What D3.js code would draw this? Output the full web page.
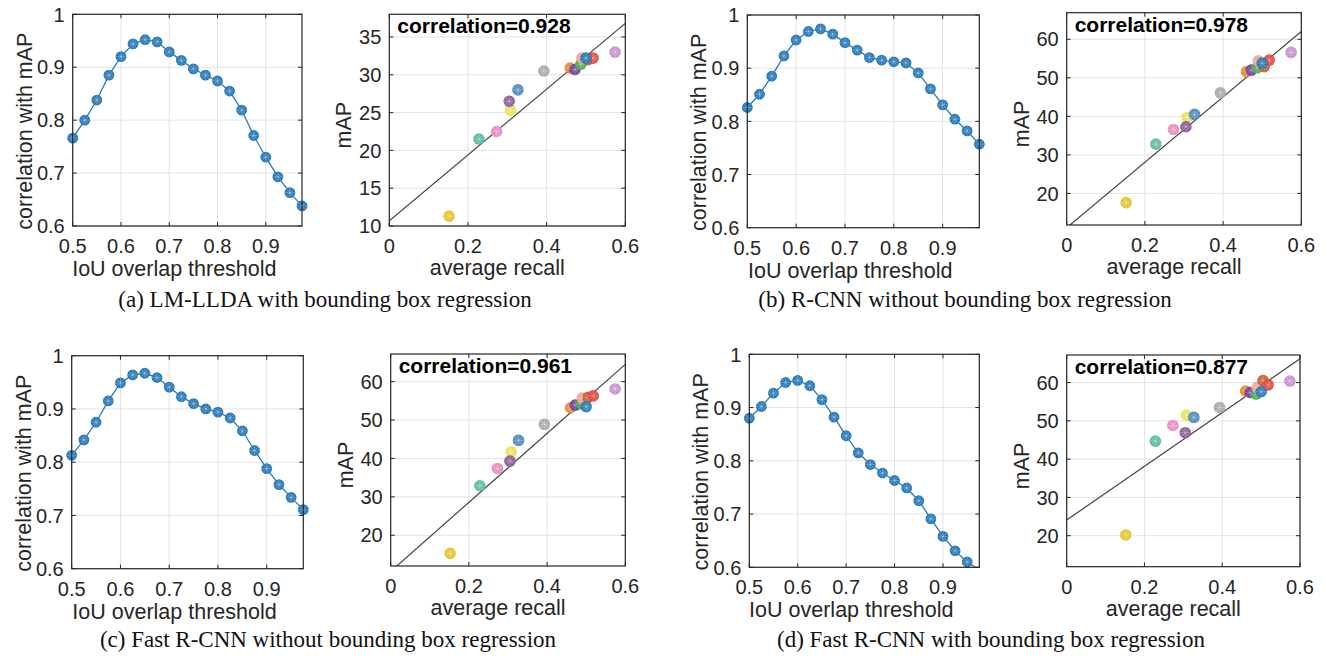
<!DOCTYPE html>
<html>
<head>
<meta charset="utf-8">
<script src="https://cdn.jsdelivr.net/npm/d3@7"></script>
<style>
  html, body { margin: 0; padding: 0; background: #fff; }
  svg { display: block; }
</style>
</head>
<body>
<svg id="chart" width="1326" height="663"></svg>
<script>
// ---------------- DATA ----------------
const iouThresholds = [0.5, 0.525, 0.55, 0.575, 0.6, 0.625, 0.65, 0.675, 0.7, 0.725,
                       0.75, 0.775, 0.8, 0.825, 0.85, 0.875, 0.9, 0.925, 0.95, 0.975];

const corrLMLLDA   = [0.766, 0.800, 0.838, 0.885, 0.920, 0.944, 0.952, 0.948, 0.929, 0.913,
                      0.897, 0.885, 0.874, 0.855, 0.819, 0.771, 0.730, 0.693, 0.663, 0.638];
const corrRCNN     = [0.826, 0.851, 0.885, 0.923, 0.953, 0.969, 0.974, 0.964, 0.948, 0.934,
                      0.920, 0.915, 0.912, 0.910, 0.891, 0.861, 0.831, 0.804, 0.782, 0.757];
const corrFastNoBB = [0.813, 0.842, 0.875, 0.915, 0.949, 0.964, 0.967, 0.959, 0.941, 0.923,
                      0.910, 0.900, 0.894, 0.883, 0.859, 0.822, 0.788, 0.758, 0.734, 0.711];
const corrFastBB   = [0.880, 0.902, 0.927, 0.947, 0.951, 0.941, 0.915, 0.882, 0.847, 0.815,
                      0.793, 0.777, 0.763, 0.749, 0.725, 0.691, 0.658, 0.631, 0.610, 0.595];

// proposal methods (draw order) and their colours
const methodColors = ["#e6c22c", "#5bb8a0", "#e98bc1", "#e4e45a", "#8b5896", "#4f88b9",
                      "#a8a8a8", "#e8872e", "#6b3fa0", "#4cad4a", "#f4a19b", "#c2612d",
                      "#e5463a", "#2379b5", "#c58fd0"];
const averageRecall = [0.152, 0.228, 0.273, 0.308, 0.305, 0.327, 0.393, 0.460, 0.472, 0.487,
                       0.490, 0.505, 0.518, 0.500, 0.574];

const mapLMLLDA   = [11.3, 21.5, 22.5, 25.3, 26.5, 28.0, 30.5, 30.9, 30.7, 31.4, 32.2, 32.0, 32.2, 32.2, 33.0];
const mapRCNN     = [17.6, 32.8, 36.6, 39.7, 37.3, 40.5, 46.1, 51.6, 52.0, 52.6, 54.4, 52.9, 54.6, 53.8, 56.6];
const mapFastNoBB = [15.3, 32.9, 37.4, 41.7, 39.3, 44.7, 48.9, 53.2, 53.9, 54.2, 55.7, 55.9, 56.3, 53.5, 58.1];
const mapFastBB   = [20.2, 44.7, 48.8, 51.5, 46.9, 50.9, 53.5, 57.8, 57.4, 57.0, 58.7, 60.5, 59.4, 57.6, 60.4];

// fitted lines: [value at recall 0, value at recall 0.6]
const fitLMLLDA   = [10.7, 36.8];
const fitRCNN     = [11.1, 62.0];
const fitFastNoBB = [10.6, 64.5];
const fitFastBB   = [24.1, 66.2];

const correlations = ["0.928", "0.978", "0.961", "0.877"];
const captions = ["(a) LM-LLDA with bounding box regression",
                  "(b) R-CNN without bounding box regression",
                  "(c) Fast R-CNN without bounding box regression",
                  "(d) Fast R-CNN with bounding box regression"];

const lineXTicks = [0.5, 0.6, 0.7, 0.8, 0.9];
const lineYTicks = [0.6, 0.7, 0.8, 0.9, 1];
const scatterXTicks = [0, 0.2, 0.4, 0.6];
const scatterYTicksA = [10, 15, 20, 25, 30, 35];
const scatterYTicksB = [20, 30, 40, 50, 60];

// ---------------- LAYOUT ----------------
const svg = d3.select("#chart");
const SANS = "'Liberation Sans', Arial, Helvetica, sans-serif";
const SERIF = "'Liberation Serif', 'DejaVu Serif', serif";
const AXIS = "#262626", GRID = "#e3e3e3", LINEBLUE = "#2a7ab8";

const linePanels = [
  {r: {x0: 72.7, x1: 302, y0: 14.3, y1: 226}, v: corrLMLLDA},
  {r: {x0: 747.3, x1: 979.3, y0: 15, y1: 227.7}, v: corrRCNN},
  {r: {x0: 71.7, x1: 303.3, y0: 355.7, y1: 568.7}, v: corrFastNoBB},
  {r: {x0: 749.3, x1: 979.3, y0: 354.3, y1: 567.3}, v: corrFastBB}
];
const scatterPanels = [
  {r: {x0: 389.3, x1: 625.3, y0: 14.3, y1: 226}, v: mapLMLLDA, fit: fitLMLLDA, dom: [10, 38], ticks: scatterYTicksA},
  {r: {x0: 1066.7, x1: 1301.3, y0: 12.7, y1: 225}, v: mapRCNN, fit: fitRCNN, dom: [11.8, 66.9], ticks: scatterYTicksB},
  {r: {x0: 390.7, x1: 625.3, y0: 354, y1: 566}, v: mapFastNoBB, fit: fitFastNoBB, dom: [12.0, 67.2], ticks: scatterYTicksB},
  {r: {x0: 1066.7, x1: 1300, y0: 355, y1: 566.7}, v: mapFastBB, fit: fitFastBB, dom: [11.9, 67.2], ticks: scatterYTicksB}
];
const captionPos = [{x: 325, y: 307}, {x: 965, y: 307}, {x: 328, y: 647}, {x: 991, y: 647}];

let clipId = 0;
function frame(g, r, x, y, xt, yt) {
  g.append("g").selectAll("line").data(xt).join("line")
    .attr("x1", d => x(d)).attr("x2", d => x(d)).attr("y1", r.y0).attr("y2", r.y1)
    .attr("stroke", GRID).attr("stroke-width", 1);
  g.append("g").selectAll("line").data(yt).join("line")
    .attr("x1", r.x0).attr("x2", r.x1).attr("y1", d => y(d)).attr("y2", d => y(d))
    .attr("stroke", GRID).attr("stroke-width", 1);
}
function axesOver(g, r, x, y, xt, yt, fmtX, fmtY) {
  const tl = 4;
  const tg = g.append("g").attr("stroke", AXIS).attr("stroke-width", 1);
  xt.forEach(d => {
    tg.append("line").attr("x1", x(d)).attr("x2", x(d)).attr("y1", r.y1).attr("y2", r.y1 - tl);
    tg.append("line").attr("x1", x(d)).attr("x2", x(d)).attr("y1", r.y0).attr("y2", r.y0 + tl);
  });
  yt.forEach(d => {
    tg.append("line").attr("x1", r.x0).attr("x2", r.x0 + tl).attr("y1", y(d)).attr("y2", y(d));
    tg.append("line").attr("x1", r.x1).attr("x2", r.x1 - tl).attr("y1", y(d)).attr("y2", y(d));
  });
  g.append("rect").attr("x", r.x0).attr("y", r.y0).attr("width", r.x1 - r.x0).attr("height", r.y1 - r.y0)
    .attr("fill", "none").attr("stroke", AXIS).attr("stroke-width", 1.2);
  g.append("g").selectAll("text").data(xt).join("text")
    .attr("x", d => x(d)).attr("y", r.y1 + 27).attr("text-anchor", "middle")
    .attr("font-family", SANS).attr("font-size", 20).attr("fill", AXIS).text(fmtX);
  g.append("g").selectAll("text").data(yt).join("text")
    .attr("x", r.x0 - 8).attr("y", d => y(d)).attr("dy", "0.36em").attr("text-anchor", "end")
    .attr("font-family", SANS).attr("font-size", 20).attr("fill", AXIS).text(fmtY);
}
function clipFor(r) {
  const id = "clip" + (clipId++);
  svg.append("defs").append("clipPath").attr("id", id).append("rect")
    .attr("x", r.x0).attr("y", r.y0).attr("width", r.x1 - r.x0).attr("height", r.y1 - r.y0);
  return "url(#" + id + ")";
}
function star(g, cx, cy, rad) {
  const p = d3.path();
  for (let k = 0; k < 4; k++) {
    const a = k * Math.PI / 4;
    p.moveTo(cx - rad * Math.cos(a), cy - rad * Math.sin(a));
    p.lineTo(cx + rad * Math.cos(a), cy + rad * Math.sin(a));
  }
  g.append("path").attr("d", p.toString()).attr("stroke", "rgba(255,255,255,0.35)").attr("stroke-width", 0.8);
}

// ---------------- LINE PANELS ----------------
linePanels.forEach(P => {
  const r = P.r;
  const g = svg.append("g");
  const x = d3.scaleLinear().domain([0.5, 0.975]).range([r.x0, r.x1]);
  const y = d3.scaleLinear().domain([0.6, 1]).range([r.y1, r.y0]);
  frame(g, r, x, y, lineXTicks, lineYTicks);
  const pts = iouThresholds.map((t, i) => [t, P.v[i]]);
  const line = d3.line().x(d => x(d[0])).y(d => y(d[1]));
  g.append("path").datum(pts).attr("d", line).attr("fill", "none")
    .attr("stroke", LINEBLUE).attr("stroke-width", 1.3).attr("clip-path", clipFor(r));
  const mg = g.append("g");
  pts.filter(d => d[1] >= 0.6).forEach(d => {
    mg.append("circle").attr("cx", x(d[0])).attr("cy", y(d[1])).attr("r", 5.4).attr("fill", LINEBLUE);
    star(mg, x(d[0]), y(d[1]), 4.6);
  });
  axesOver(g, r, x, y, lineXTicks, lineYTicks, d => d3.format(".1f")(d), d => d === 1 ? "1" : d3.format(".1f")(d));
  const cx = (r.x0 + r.x1) / 2, cy = (r.y0 + r.y1) / 2;
  g.append("text").attr("x", cx - 13).attr("y", r.y1 + 50).attr("text-anchor", "middle")
    .attr("font-family", SANS).attr("font-size", 21.5).attr("fill", AXIS).text("IoU overlap threshold");
  g.append("text").attr("transform", `translate(${r.x0 - 41},${cy + 11}) rotate(-90)`)
    .attr("text-anchor", "middle").attr("font-family", SANS).attr("font-size", 21.5).attr("fill", AXIS)
    .text("correlation with mAP");
});

// ---------------- SCATTER PANELS ----------------
scatterPanels.forEach((P, pi) => {
  const r = P.r;
  const g = svg.append("g");
  const x = d3.scaleLinear().domain([0, 0.6]).range([r.x0, r.x1]);
  const y = d3.scaleLinear().domain(P.dom).range([r.y1, r.y0]);
  frame(g, r, x, y, scatterXTicks, P.ticks);
  g.append("line").attr("x1", x(0)).attr("y1", y(P.fit[0])).attr("x2", x(0.6)).attr("y2", y(P.fit[1]))
    .attr("stroke", "#444").attr("stroke-width", 1.2).attr("clip-path", clipFor(r));
  const mg = g.append("g");
  averageRecall.forEach((ar, i) => {
    mg.append("circle").attr("cx", x(ar)).attr("cy", y(P.v[i])).attr("r", 5.8)
      .attr("fill", methodColors[i]).attr("fill-opacity", 0.95);
    star(mg, x(ar), y(P.v[i]), 5);
  });
  axesOver(g, r, x, y, scatterXTicks, P.ticks, d => d === 0 ? "0" : d3.format(".1f")(d), d => String(d));
  const cx = (r.x0 + r.x1) / 2, cy = (r.y0 + r.y1) / 2;
  g.append("text").attr("x", cx - 10).attr("y", r.y1 + 49).attr("text-anchor", "middle")
    .attr("font-family", SANS).attr("font-size", 21.5).attr("fill", AXIS).text("average recall");
  g.append("text").attr("transform", `translate(${r.x0 - 38},${cy + 5}) rotate(-90)`)
    .attr("text-anchor", "middle").attr("font-family", SANS).attr("font-size", 21.5).attr("fill", AXIS)
    .text("mAP");
  g.append("text").attr("x", r.x0 + 8).attr("y", r.y0 + 19)
    .attr("font-family", SANS).attr("font-weight", "bold").attr("font-size", 21).attr("fill", "#000")
    .text("correlation=" + correlations[pi]);
});

// ---------------- CAPTIONS ----------------
captions.forEach((c, i) => {
  svg.append("text").attr("x", captionPos[i].x).attr("y", captionPos[i].y).attr("text-anchor", "middle")
    .attr("font-family", SERIF).attr("font-size", 23).attr("fill", "#111").text(c);
});
</script>
</body>
</html>
